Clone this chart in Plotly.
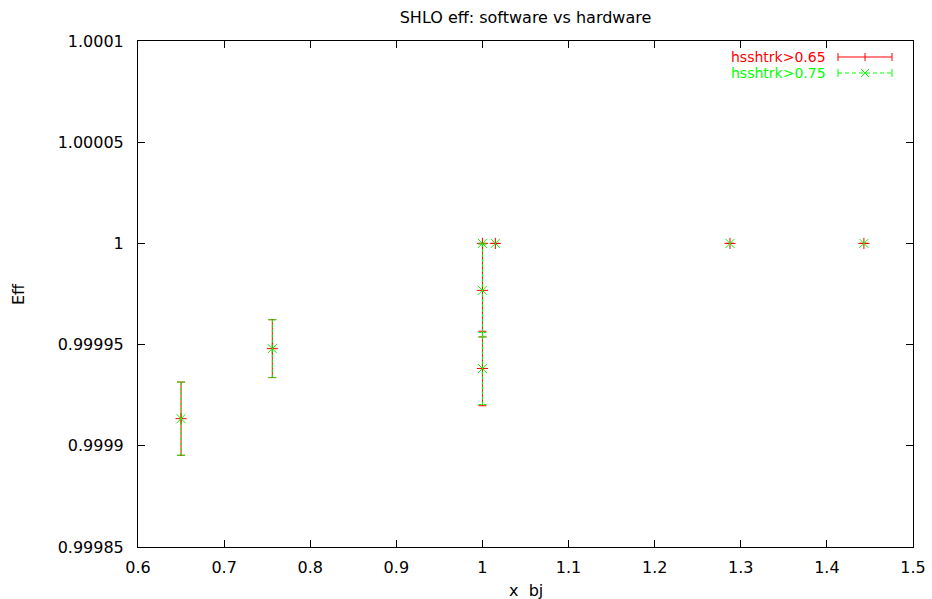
import plotly.graph_objects as go

# ---- data ----
x_bj = [0.65, 0.756, 1.0, 1.0, 1.0, 1.015, 1.2875, 1.443]
eff_065 = [0.9999134, 0.9999480, 1.0, 0.9999768, 0.9999382, 1.0, 1.0, 1.0]
err_065 = [0.0000181, 0.0000143, 0.0, 0.0000230, 0.0000184, 0.0, 0.0, 0.0]
eff_075 = [0.9999134, 0.9999480, 1.0, 0.9999768, 0.9999382, 1.0, 1.0, 1.0]
err_075 = [0.0000181, 0.0000143, 0.0, 0.0000230, 0.0000178, 0.0, 0.0, 0.0]

series_names = ["hsshtrk>0.65", "hsshtrk>0.75"]
x_ticks = [0.6, 0.7, 0.8, 0.9, 1.0, 1.1, 1.2, 1.3, 1.4, 1.5]
x_tick_labels = ["0.6", "0.7", "0.8", "0.9", "1", "1.1", "1.2", "1.3", "1.4", "1.5"]
y_ticks = [0.99985, 0.9999, 0.99995, 1.0, 1.00005, 1.0001]
y_tick_labels = ["0.99985", "0.9999", "0.99995", "1", "1.00005", "1.0001"]

RED = "#ff0000"
GREEN = "#00ff00"
FONT = "DejaVu Sans"

W, H = 932, 599
ML, MR, MT, MB = 138, 19, 41, 52
PW, PH = W - ML - MR, H - MT - MB
X0, X1 = 0.6, 1.5
Y0, Y1 = 0.99985, 1.0001

fig = go.Figure()

# red series: solid error bars with "+" markers
fig.add_trace(go.Scatter(
    x=x_bj, y=eff_065, mode="markers", name=series_names[0], showlegend=False,
    marker=dict(symbol="cross-thin", size=8, line=dict(color=RED, width=1), color=RED),
    error_y=dict(type="data", array=err_065, visible=True, color=RED, thickness=1, width=4),
))

# green series: dashed error bars (built from the data) with "x" markers
cap = 4 * (X1 - X0) / PW
gx, gy = [], []
for xv, yv, ev in zip(x_bj, eff_075, err_075):
    if ev > 0:
        gx += [xv, xv, None, xv - cap, xv + cap, None, xv - cap, xv + cap, None]
        gy += [yv - ev, yv + ev, None, yv - ev, yv - ev, None, yv + ev, yv + ev, None]
fig.add_trace(go.Scatter(
    x=gx, y=gy, mode="lines", showlegend=False, hoverinfo="skip",
    line=dict(color=GREEN, width=1, dash="3px,2px"),
))
fig.add_trace(go.Scatter(
    x=x_bj, y=eff_075, mode="markers", name=series_names[1], showlegend=False,
    marker=dict(symbol="x-thin", size=9, line=dict(color=GREEN, width=1), color=GREEN),
))

def px_x(p):
    return (p - ML) / PW

def px_y(p):
    return (H - MB - p) / PH

shapes = []
annotations = []
# custom gnuplot-style key (text left, sample right)
for i, (name, col, ypx, dash) in enumerate([
    (series_names[0], RED, 57, "solid"),
    (series_names[1], GREEN, 73, "4px,3px"),
]):
    annotations.append(dict(
        x=px_x(828), y=px_y(ypx), xref="paper", yref="paper", text=name,
        showarrow=False, xanchor="right", yanchor="middle",
        font=dict(family=FONT, size=14, color=col),
    ))
    xa, xb = px_x(838), px_x(892)
    shapes.append(dict(type="line", xref="paper", yref="paper", x0=xa, x1=xb,
                       y0=px_y(ypx), y1=px_y(ypx), line=dict(color=col, width=1, dash=dash)))
    for xe in (xa, xb):
        shapes.append(dict(type="line", xref="paper", yref="paper", x0=xe, x1=xe,
                           y0=px_y(ypx - 4), y1=px_y(ypx + 4), line=dict(color=col, width=1)))
    xm = px_x(865)
    if i == 0:
        shapes.append(dict(type="line", xref="paper", yref="paper", x0=xm, x1=xm,
                           y0=px_y(ypx - 4), y1=px_y(ypx + 4), line=dict(color=col, width=1)))
    else:
        d = 4 / PW
        dy = 4 / PH
        shapes.append(dict(type="line", xref="paper", yref="paper", x0=xm - d, x1=xm + d,
                           y0=px_y(ypx) - dy, y1=px_y(ypx) + dy, line=dict(color=col, width=1)))
        shapes.append(dict(type="line", xref="paper", yref="paper", x0=xm - d, x1=xm + d,
                           y0=px_y(ypx) + dy, y1=px_y(ypx) - dy, line=dict(color=col, width=1)))

annotations.append(dict(
    x=px_x(18), y=0.5, xref="paper", yref="paper", text="Eff", textangle=-90,
    showarrow=False, xanchor="center", yanchor="middle",
    font=dict(family=FONT, size=16, color="black"),
))
annotations.append(dict(
    x=0.5, y=px_y(590), xref="paper", yref="paper", text="x\u00a0\u00a0bj",
    showarrow=False, xanchor="center", yanchor="middle",
    font=dict(family=FONT, size=16, color="black"),
))

axis_common = dict(
    showgrid=False, zeroline=False, showline=True, linecolor="black", linewidth=1,
    mirror="ticks", ticks="inside", ticklen=7, tickcolor="black", tickwidth=1,
    tickfont=dict(family=FONT, size=16, color="black"),
)

fig.update_layout(
    width=W, height=H,
    margin=dict(l=ML, r=MR, t=MT, b=MB, autoexpand=False),
    paper_bgcolor="white", plot_bgcolor="white",
    title=dict(text="SHLO eff: software vs hardware", x=px_x(525.5), xref="paper",
               xanchor="center", y=(H - 17) / H, yref="container", yanchor="middle",
               font=dict(family=FONT, size=16, color="black")),
    xaxis=dict(range=[X0, X1], tickmode="array", tickvals=x_ticks, ticktext=x_tick_labels,
               ticklabelstandoff=6, **axis_common),
    yaxis=dict(range=[Y0, Y1], tickmode="array", tickvals=y_ticks, ticktext=y_tick_labels,
               ticklabelstandoff=10, **axis_common),
    shapes=shapes, annotations=annotations, showlegend=False,
)

fig.write_html("out.html")
